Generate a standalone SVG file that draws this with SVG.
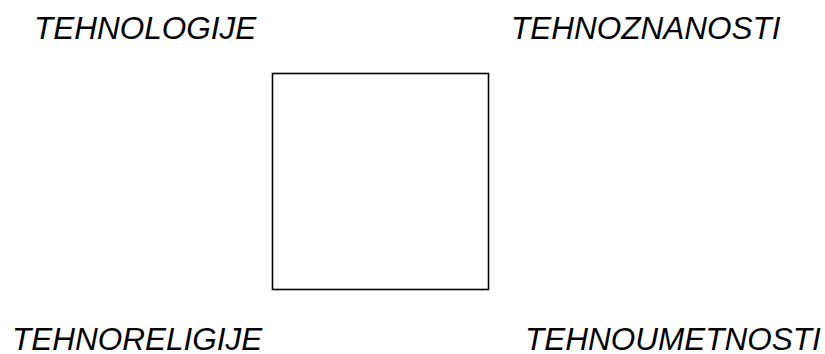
<svg xmlns="http://www.w3.org/2000/svg" width="825" height="354" viewBox="0 0 825 354">
<style>
.t{font-family:"Liberation Sans",Arial,sans-serif;font-style:italic;font-size:31.5px;fill:#000}
.box{fill:#fff;stroke:#000;stroke-width:1.6}
</style>
<rect width="825" height="354" fill="#fff"/>
<g id="center"><rect class="box" x="272.5" y="73.5" width="216" height="216"/></g>
<g id="connectors"></g>
<g id="tehnologije"><text class="t" x="34" y="39">TEHNOLOGIJE</text></g>
<g id="tehnoznanosti"><text class="t" x="511" y="39">TEHNOZNANOSTI</text></g>
<g id="tehnoreligije"><text class="t" x="12" y="349.5">TEHNORELIGIJE</text></g>
<g id="tehnoumetnosti"><text class="t" x="525" y="349.5">TEHNOUMETNOSTI</text></g>
</svg>
